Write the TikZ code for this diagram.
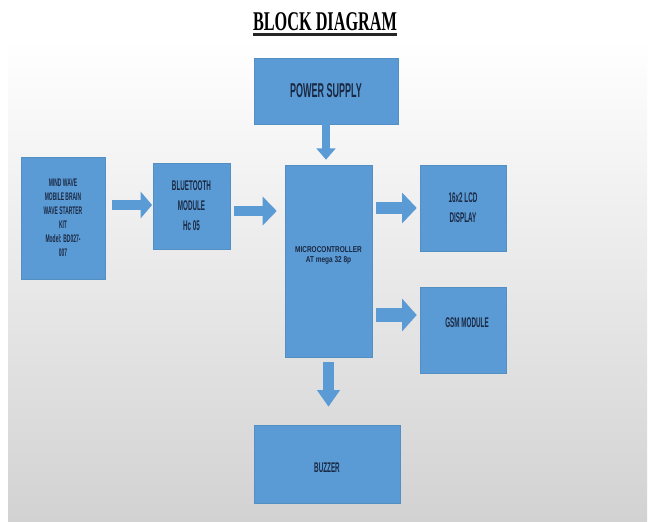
\documentclass[tikz,border=0pt]{standalone}
\usepackage{fontspec}
\usetikzlibrary{arrows.meta,calc}
\newfontfamily\agency[FakeStretch=0.45,BoldFont={Liberation Sans Bold}]{Liberation Sans}
\newfontfamily\mcfont[FakeStretch=0.76]{Liberation Sans}
\newfontfamily\titlefont[FakeStretch=0.6]{Liberation Serif}
\definecolor{boxblue}{HTML}{5B9BD5}
\definecolor{txtnavy}{HTML}{1A2842}
\definecolor{bgtop}{HTML}{FFFFFF}
\definecolor{bgbot}{HTML}{D2D2D2}
\begin{document}
\begin{tikzpicture}[x=0.75pt,y=-0.75pt,
  blk/.style={fill=boxblue, draw=boxblue!92!black, line width=0.4pt, inner sep=0pt, text=txtnavy, align=center},
  barrow/.style={draw=boxblue, line width=8pt, -{Triangle[length=10.5pt,width=21pt]}}]
\useasboundingbox (0,0) rectangle (649,521);
\fill[white] (0,0) rectangle (649,521);
\shade[top color=bgtop, bottom color=bgbot] (8,40) rectangle (647,521);

% title
\node[inner sep=0pt, anchor=base] (title) at (325,31) {\titlefont\bfseries\fontsize{20.3pt}{22pt}\selectfont BLOCK DIAGRAM};
\draw[line width=1.6pt, black!85] ($(title.base west)+(0,3.5)$) -- ($(title.base east)+(0,3.5)$);

% boxes
\node[blk, minimum width=63pt, minimum height=91.5pt, font={\agency\bfseries\fontsize{8.25pt}{10.5pt}\selectfont}] (mind) at (63,218)
  {MIND WAVE\\MOBILE BRAIN\\WAVE STARTER\\KIT\\Model: BD027-\\007};
\node[blk, minimum width=57.75pt, minimum height=64.5pt, font={\agency\bfseries\fontsize{10.5pt}{15pt}\selectfont}] (bt) at (191.5,206)
  {BLUETOOTH\\MODULE\\Hc 05};
\node[blk, minimum width=108pt, minimum height=49.5pt, font={\agency\bfseries\fontsize{15pt}{18pt}\selectfont}] (ps) at (326,91)
  {POWER SUPPLY};
\node[blk, minimum width=65.25pt, minimum height=144pt] (mc) at (328.5,261) {};
\node[text=txtnavy, align=center, inner sep=0pt, font={\mcfont\bfseries\fontsize{6.4pt}{7.5pt}\selectfont}] (mctext) at (328.5,255)
  {MICROCONTROLLER\\AT mega 32 8p};
\node[blk, minimum width=64.5pt, minimum height=64.5pt, font={\agency\bfseries\fontsize{10.5pt}{15pt}\selectfont}] (lcd) at (463,208)
  {16x2 LCD\\DISPLAY};
\node[blk, minimum width=64.5pt, minimum height=64.5pt] (gsm) at (463,330) {};
\node[text=txtnavy, inner sep=0pt, font={\agency\bfseries\fontsize{10.5pt}{15pt}\selectfont}] (gsmtext) at (467,323)
  {GSM MODULE};
\node[blk, minimum width=109.5pt, minimum height=58.5pt] (buz) at (327,464) {};
\node[text=txtnavy, inner sep=0pt, font={\agency\bfseries\fontsize{10.5pt}{15pt}\selectfont}] (buztext) at (327,468)
  {BUZZER};

% block arrows
\draw[barrow, line width=7.5pt, -{Triangle[length=8.5pt,width=19.5pt]}, shorten <=5pt, shorten >=0.5pt]
  ($(mind.east |- bt.west)+(0,-1)$) -- ($(bt.west)+(0,-1)$);
\draw[barrow, shorten <=3pt, shorten >=6pt]
  ($(bt.east)+(0,5)$) -- ($(bt.east -| mc.west)+(0,5)$);
\draw[barrow, line width=6.5pt, -{Triangle[length=8.5pt,width=14pt]}, shorten >=3.75pt]
  (ps.south) -- (ps.south |- mc.north);
\draw[barrow, line width=9.5pt, -{Triangle[length=11pt,width=22.5pt]}, shorten <=3pt, shorten >=2.25pt]
  (lcd.west -| mc.east) -- (lcd.west);
\draw[barrow, line width=10pt, -{Triangle[length=11pt,width=24pt]}, shorten <=3pt, shorten >=2.25pt]
  ($(gsm.west -| mc.east)+(0,-15)$) -- ($(gsm.west)+(0,-15)$);
\draw[barrow, line width=8.25pt, -{Triangle[length=12.5pt,width=16.5pt]}, shorten <=3.75pt, shorten >=13.5pt]
  (mc.south) -- (mc.south |- buz.north);
\end{tikzpicture}
\end{document}
